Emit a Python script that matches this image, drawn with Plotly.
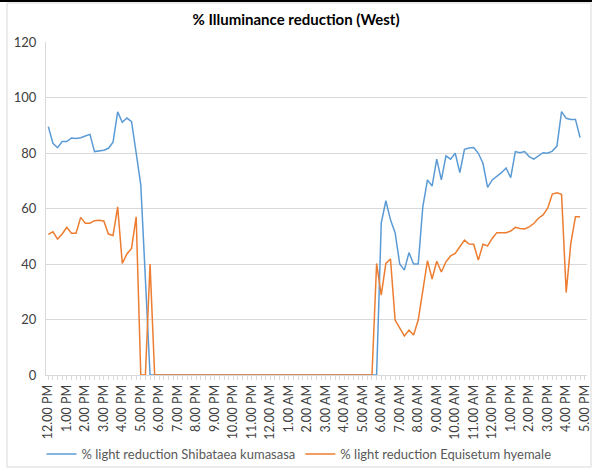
import plotly.graph_objects as go

# 15-minute categories from 12:00 PM to 5:00 PM next day
hour_labels = ["12.00 PM", "1.00 PM", "2.00 PM", "3.00 PM", "4.00 PM", "5.00 PM", "6.00 PM",
               "7.00 PM", "8.00 PM", "9.00 PM", "10.00 PM", "11.00 PM", "12.00 AM", "1.00 AM",
               "2.00 AM", "3.00 AM", "4.00 AM", "5.00 AM", "6.00 AM", "7.00 AM", "8.00 AM",
               "9.00 AM", "10.00 AM", "11.00 AM", "12.00 PM", "1.00 PM", "2.00 PM", "3.00 PM",
               "4.00 PM", "5.00 PM"]

shibataea = [89.5, 83.5, 81.9, 84.1, 84.1, 85.4, 85.2, 85.5, 86.1, 86.7,
             80.5, 80.7, 81.0, 81.7, 83.9, 94.8, 91.1, 92.6, 91.3, 80.0,
             68.5, 34.5, 0, 0, 0, 0, 0, 0, 0, 0,
             0, 0, 0, 0, 0, 0, 0, 0, 0, 0,
             0, 0, 0, 0, 0, 0, 0, 0, 0, 0,
             0, 0, 0, 0, 0, 0, 0, 0, 0, 0,
             0, 0, 0, 0, 0, 0, 0, 0, 0, 0,
             0, 0, 54.7, 62.8, 55.9, 51.3, 40.0, 37.8, 44.1, 40.0,
             40.0, 60.7, 70.3, 68.1, 77.8, 70.3, 79.0, 77.8, 79.9, 72.9,
             81.3, 81.8, 82.0, 79.9, 76.3, 67.6, 70.3, 71.5, 72.9, 74.6,
             71.1, 80.5, 80.1, 80.5, 78.7, 77.8, 78.9, 80.1, 79.9, 80.7,
             82.5, 94.9, 92.5, 92.1, 92.1, 85.6, None]

equisetum = [50.7, 51.6, 49.0, 50.8, 53.2, 51.1, 51.1, 56.8, 54.7, 54.7,
             55.6, 55.8, 55.5, 50.8, 50.3, 60.6, 40.2, 43.6, 45.6, 57.0,
             0, 0, 40.0, 0, 0, 0, 0, 0, 0, 0,
             0, 0, 0, 0, 0, 0, 0, 0, 0, 0,
             0, 0, 0, 0, 0, 0, 0, 0, 0, 0,
             0, 0, 0, 0, 0, 0, 0, 0, 0, 0,
             0, 0, 0, 0, 0, 0, 0, 0, 0, 0,
             0, 40.2, 28.8, 40.2, 41.8, 19.8, 17.2, 14.1, 16.2, 14.4,
             19.8, 30.6, 41.2, 34.6, 41.0, 37.1, 40.8, 42.9, 43.8, 46.2,
             48.6, 47.2, 47.1, 41.4, 47.1, 46.5, 49.2, 51.3, 51.3, 51.3,
             51.9, 53.2, 52.8, 52.6, 53.4, 54.6, 56.5, 57.7, 60.1, 65.2,
             65.7, 65.1, 29.7, 47.4, 57.0, 57.0, None]

n = len(shibataea)
x = list(range(n))
tickvals = list(range(n))
ticktext = [hour_labels[i // 4] if i % 4 == 0 else "" for i in range(n)]

fig = go.Figure()
fig.add_trace(go.Scatter(x=x, y=shibataea, mode="lines", name="% light reduction Shibataea kumasasa",
                         line=dict(color="#5B9BD5", width=1.5)))
fig.add_trace(go.Scatter(x=x, y=equisetum, mode="lines", name="% light reduction Equisetum hyemale",
                         line=dict(color="#ED7D31", width=1.5)))

L, R, T, B = 46, 5, 42, 94
W, H = 592, 469
pw, ph = W - L - R, H - T - B

def px(v):
    return (v - L) / pw

def py(v):
    return (H - B - v) / ph

fig.update_layout(
    width=W, height=H,
    margin=dict(l=L, r=R, t=T, b=B, autoexpand=False),
    paper_bgcolor="white", plot_bgcolor="white",
    font=dict(family="Lato, Open Sans, sans-serif", color="#595959"),
    title=dict(text="<b>% Illuminance reduction (West)</b>", x=0.5, xanchor="center",
               y=1 - 20 / H, yanchor="middle", yref="container",
               font=dict(size=15, color="#000000")),
    xaxis=dict(range=[-0.5, n - 0.5], tickvals=tickvals, ticktext=ticktext, tickangle=-90,
               showgrid=False, zeroline=False, showline=True, linecolor="#d9d9d9", linewidth=1,
               ticks="outside", ticklen=4, tickcolor="#d9d9d9", automargin=False,
               tickfont=dict(size=12.5, color="#404040")),
    yaxis=dict(range=[0, 120], dtick=20, showgrid=True, gridcolor="#d9d9d9", gridwidth=1,
               zeroline=False, showline=True, linecolor="#d9d9d9", ticks="", automargin=False,
               ticklabelstandoff=6,
               tickfont=dict(size=13, color="#404040")),
    legend=dict(orientation="h", x=299 / W, xanchor="center", xref="container",
                y=1 - 454 / H, yanchor="middle", yref="container", bgcolor="rgba(0,0,0,0)",
                font=dict(size=13, color="#595959"), itemwidth=30, traceorder="normal"),
    showlegend=True,
    shapes=[
        dict(type="rect", xref="paper", yref="paper", x0=px(7), x1=px(591), y0=py(467), y1=py(3),
             line=dict(color="#d9d9d9", width=1), fillcolor="rgba(0,0,0,0)", layer="below"),
        dict(type="rect", xref="paper", yref="paper", x0=px(0), x1=px(592), y0=py(2), y1=py(0),
             line=dict(width=0), fillcolor="#000000"),
    ],
)

fig.write_html("out.html", config={"displayModeBar": False},
               post_script="document.body.style.margin='0';document.body.style.padding='0';")
